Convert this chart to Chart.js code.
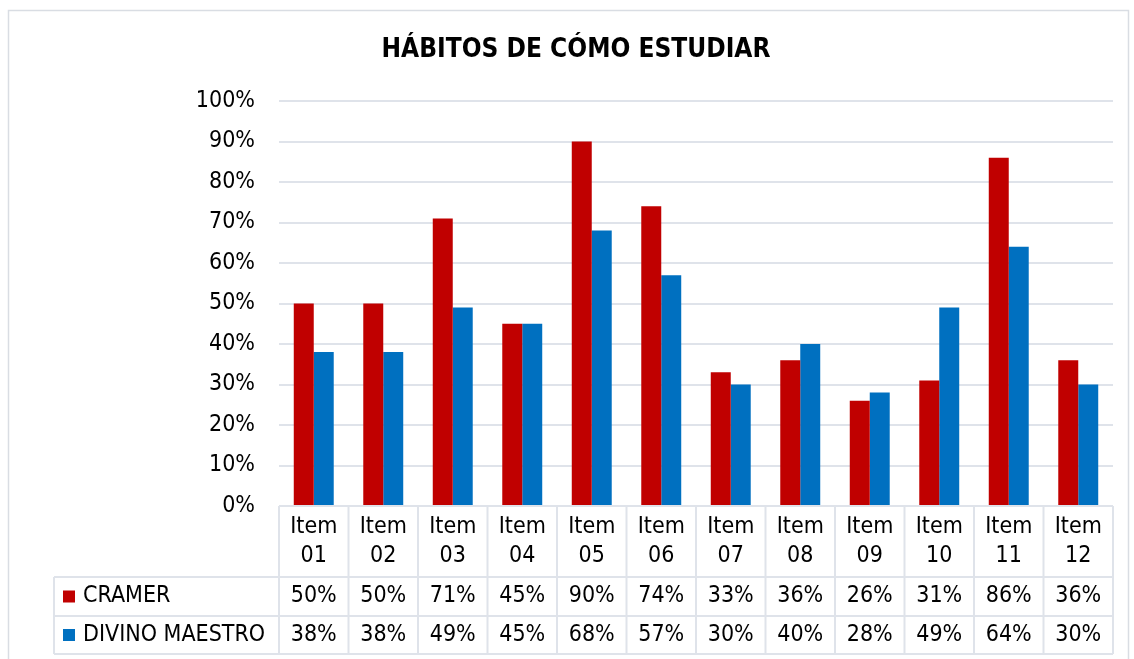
<!DOCTYPE html>
<html>
<head>
<meta charset="utf-8">
<script src="https://cdn.jsdelivr.net/npm/chart.js@4.4.1/dist/chart.umd.min.js"></script>
<style>
  html, body { margin:0; padding:0; background:#fff; }
  #wrap { position:relative; width:1134px; height:659px; }
</style>
</head>
<body>
<div id="wrap"><canvas id="chart" width="1134" height="659"></canvas></div>
<script>
  const FONT = "'Liberation Sans Narrow', 'Arial Narrow', 'DejaVu Sans Condensed', sans-serif";

  const categories = ['01','02','03','04','05','06','07','08','09','10','11','12'];
  const cramer = [50, 50, 71, 45, 90, 74, 33, 36, 26, 31, 86, 36];
  const divino = [38, 38, 49, 45, 68, 57, 30, 40, 28, 49, 64, 30];
  const yTicks = [0,10,20,30,40,50,60,70,80,90,100];

  const seriesNames = ['CRAMER', 'DIVINO MAESTRO'];
  const seriesColors = ['#C00000', '#0070C0'];
  const gridColor = '#dfe3ea';

  // ── data table + title + frame drawn under/over the plot ──
  const tablePlugin = {
    id: 'tablePlugin',
    afterDraw(chart) {
      const ctx = chart.ctx;
      const x = chart.scales.x;
      const area = chart.chartArea;
      const left = area.left, right = area.right;
      const rowTop = area.bottom, rowHead = area.bottom + 71, rowMid = rowHead + 39, rowBot = rowMid + 38;
      const labLeft = 54;
      const step = (right - left) / categories.length;

      ctx.save();
      // frame
      ctx.strokeStyle = '#d9dde3';
      ctx.lineWidth = 1.5;
      ctx.strokeRect(8.5, 10.5, 1120, 700);

      // title
      ctx.fillStyle = '#000';
      ctx.font = 'bold 26px ' + FONT;
      ctx.textAlign = 'center';
      ctx.textBaseline = 'middle';
      ctx.fillText('HÁBITOS DE CÓMO ESTUDIAR', 576, 50);

      // table lines
      ctx.strokeStyle = gridColor;
      ctx.lineWidth = 2;
      ctx.beginPath();
      ctx.moveTo(left, rowTop); ctx.lineTo(right, rowTop);
      [rowHead, rowMid, rowBot].forEach(y => { ctx.moveTo(labLeft, y); ctx.lineTo(right, y); });
      ctx.moveTo(labLeft, rowHead); ctx.lineTo(labLeft, rowBot);
      for (let i = 0; i <= categories.length; i++) {
        const xx = left + i * step;
        ctx.moveTo(xx, rowTop); ctx.lineTo(xx, rowBot);
      }
      ctx.stroke();

      // header + values
      ctx.fillStyle = '#000';
      ctx.font = '23px ' + FONT;
      ctx.textAlign = 'center';
      categories.forEach((c, i) => {
        const cx = x.getPixelForValue(i);
        ctx.fillText('Item', cx, rowTop + 21);
        ctx.fillText(c, cx, rowTop + 50);
        ctx.fillText(cramer[i] + '%', cx, (rowHead + rowMid) / 2);
        ctx.fillText(divino[i] + '%', cx, (rowMid + rowBot) / 2);
      });

      // legend keys in the row labels
      ctx.textAlign = 'left';
      [[rowHead, rowMid], [rowMid, rowBot]].forEach((r, i) => {
        const cy = (r[0] + r[1]) / 2;
        ctx.fillStyle = seriesColors[i];
        ctx.fillRect(63, cy - 6, 12, 12);
        ctx.fillStyle = '#000';
        ctx.fillText(seriesNames[i], 83, cy);
      });
      ctx.restore();
    }
  };

  new Chart(document.getElementById('chart').getContext('2d'), {
    type: 'bar',
    data: {
      labels: categories.map(c => 'Item ' + c),
      datasets: [
        { label: seriesNames[0], data: cramer, backgroundColor: seriesColors[0], categoryPercentage: 0.575, barPercentage: 1 },
        { label: seriesNames[1], data: divino, backgroundColor: seriesColors[1], categoryPercentage: 0.575, barPercentage: 1 }
      ]
    },
    options: {
      responsive: false,
      animation: false,
      layout: { padding: { left: 8, right: 21, top: 101, bottom: 153 } },
      plugins: { legend: { display: false }, tooltip: { enabled: false }, title: { display: false } },
      scales: {
        x: { display: false, offset: true },
        y: {
          min: 0, max: 100,
          afterFit: s => { s.width = 271; },
          afterBuildTicks: s => { s.ticks = yTicks.map(v => ({ value: v })); },
          border: { display: false },
          grid: { color: ctx => ctx.tick.value === 0 ? 'rgba(0,0,0,0)' : gridColor, lineWidth: 2, drawTicks: false },
          ticks: { color: '#000', padding: 24, font: { family: FONT, size: 23 }, callback: v => v + '%' }
        }
      }
    },
    plugins: [tablePlugin]
  });
</script>
</body>
</html>
